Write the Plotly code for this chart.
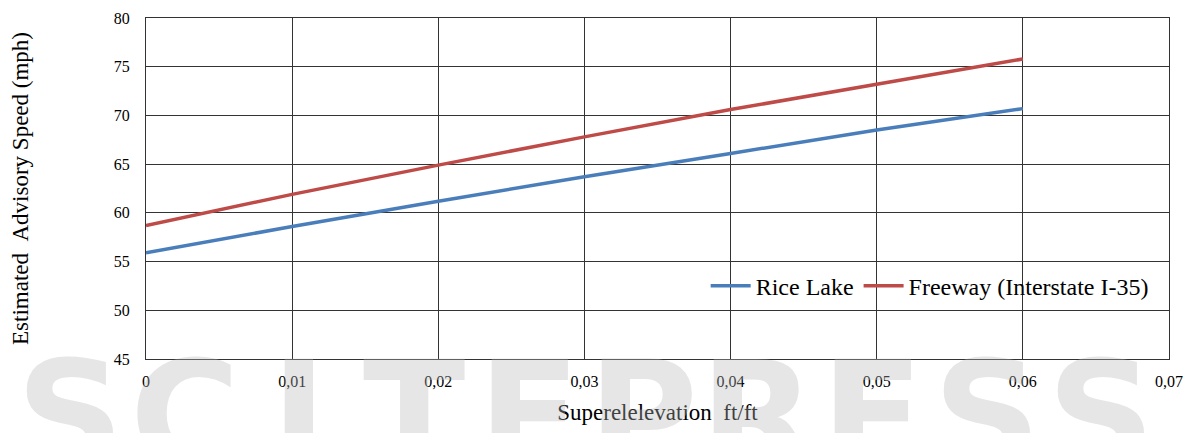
import plotly.graph_objs as go

# superelevation (ft/ft)
e = [0, 0.01, 0.02, 0.03, 0.04, 0.05, 0.06]
# estimated advisory speed (mph)
rice_lake = [55.9, 58.6, 61.2, 63.7, 66.1, 68.5, 70.7]
freeway = [58.7, 61.9, 64.9, 67.8, 70.6, 73.2, 75.8]

x_ticks = [0, 0.01, 0.02, 0.03, 0.04, 0.05, 0.06, 0.07]
x_labels = ['0', '0,01', '0,02', '0,03', '0,04', '0,05', '0,06', '0,07']

watermark = 'SCITEPRESS'

font = 'Liberation Serif, Times New Roman, serif'
grid = '#333333'

fig = go.Figure()
fig.add_trace(go.Scatter(x=e, y=rice_lake, name='Rice Lake', mode='lines',
                         line=dict(color='#4a7ebb', width=3.5)))
fig.add_trace(go.Scatter(x=e, y=freeway, name='Freeway (Interstate I-35)', mode='lines',
                         line=dict(color='#be4b48', width=3.5)))

# faint publisher watermark along the bottom, one letter at a time
marks = []
for i, ch in enumerate(watermark):
    marks.append(dict(
        text=ch, xref='paper', yref='paper',
        x=-0.074 + i * 0.112, y=0.094,
        xanchor='center', yanchor='top', showarrow=False,
        font=dict(family='DejaVu Sans', size=150, color='#b8b8b8', weight='bold'),
        opacity=0.35,
    ))

fig.update_layout(
    width=1193,
    height=433,
    paper_bgcolor='white',
    plot_bgcolor='rgba(0,0,0,0)',
    margin=dict(l=138, r=32, t=10, b=82),
    showlegend=True,
    legend=dict(
        orientation='h',
        x=0.985, xanchor='right',
        y=0.214, yanchor='middle',
        bgcolor='rgba(0,0,0,0)',
        itemwidth=40,
        font=dict(family=font, size=24, color='black'),
    ),
    annotations=marks,
)

fig.update_xaxes(
    range=[0, 0.07],
    tickvals=x_ticks, ticktext=x_labels,
    showgrid=True, gridcolor=grid, gridwidth=1,
    showline=True, linecolor=grid, mirror=True,
    zeroline=False, ticks='', ticklabelstandoff=8, automargin=False,
    tickfont=dict(family=font, size=16, color='black'),
    title=dict(text='Superelelevation\u00a0\u00a0ft/ft', standoff=14,
               font=dict(family=font, size=23, color='black')),
)
fig.update_yaxes(
    range=[45, 80], dtick=5,
    showgrid=True, gridcolor=grid, gridwidth=1,
    showline=True, linecolor=grid, mirror=True,
    zeroline=False, ticks='', ticklabelstandoff=12, automargin=False,
    tickfont=dict(family=font, size=16, color='black'),
    title=dict(text='Estimated\u00a0\u00a0Advisory Speed (mph)', standoff=80,
               font=dict(family=font, size=23, color='black')),
)

fig.write_html('out.html')
